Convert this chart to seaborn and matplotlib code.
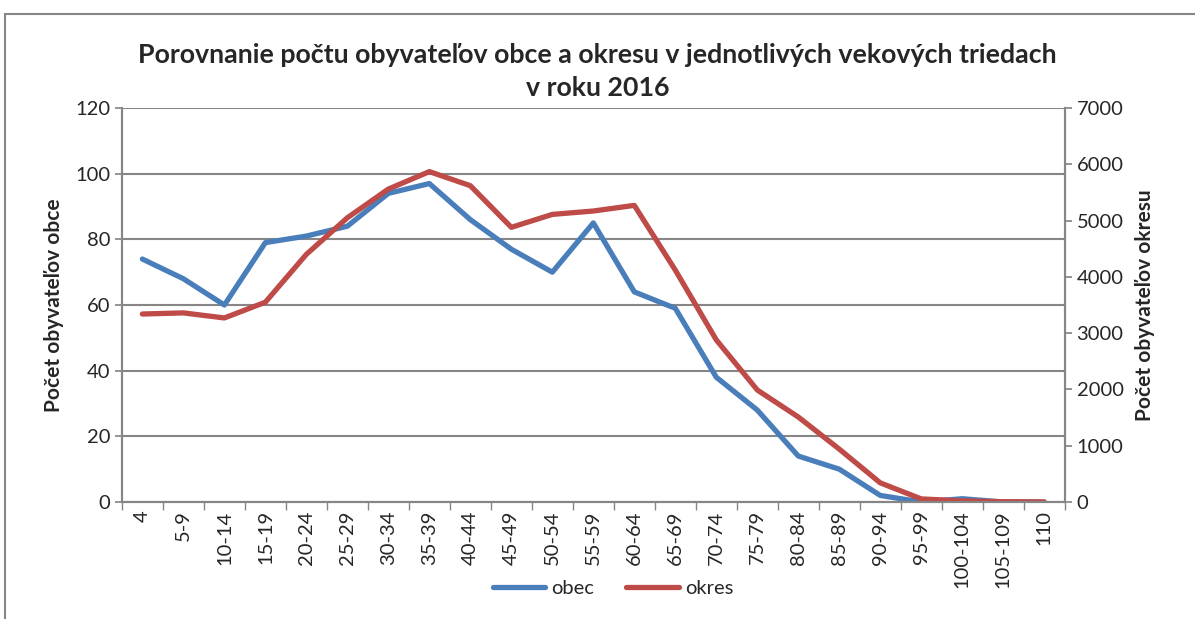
import matplotlib
matplotlib.use("Agg")
import matplotlib.pyplot as plt
import seaborn as sns
import pandas as pd
from matplotlib.lines import Line2D

categories = ["4", "5-9", "10-14", "15-19", "20-24", "25-29", "30-34", "35-39",
              "40-44", "45-49", "50-54", "55-59", "60-64", "65-69", "70-74",
              "75-79", "80-84", "85-89", "90-94", "95-99", "100-104", "105-109", "110"]
obec = [74, 68, 60, 79, 81, 84, 94, 97, 86, 77, 70, 85, 64, 59, 38, 28, 14, 10, 2, 0, 1, 0, 0]
okres = [3340, 3360, 3270, 3550, 4400, 5050, 5560, 5870, 5620, 4880, 5110, 5170, 5270,
         4120, 2880, 1990, 1510, 940, 340, 55, 20, 5, 0]

sns.set_theme(style="white")
plt.rcParams['font.family'] = ['Lato', 'DejaVu Sans']

BLUE = "#4A7EBB"
RED = "#BE4B48"
GRID = "#868686"

df = pd.DataFrame({"x": range(len(categories)), "obec": obec, "okres": okres})

fig = plt.figure(figsize=(11.95, 6.19), dpi=100)
ax = fig.add_axes([0.102, 0.189, 0.789, 0.6365])
ax2 = ax.twinx()

sns.lineplot(data=df, x="x", y="obec", ax=ax, color=BLUE, linewidth=3.8, solid_capstyle="round")
sns.lineplot(data=df, x="x", y="okres", ax=ax2, color=RED, linewidth=3.8, solid_capstyle="round")

ax.set_xlim(-0.5, len(categories) - 0.5)
ax.set_ylim(0, 120)
ax.set_yticks(range(0, 121, 20))
ax2.set_ylim(0, 7000)
ax2.set_yticks(range(0, 7001, 1000))

ax.set_xticks(range(len(categories)))
ax.set_xticklabels(categories, rotation=90, fontsize=14.5)
ax.tick_params(axis="y", labelsize=14.5, length=5, color=GRID, direction="out", left=True)
ax2.tick_params(axis="y", labelsize=14.5, length=5, color=GRID, direction="out", right=True)
ax.set_xticks([i - 0.5 for i in range(len(categories) + 1)], minor=True)
ax.tick_params(axis="x", which="major", length=0, pad=6)
ax.tick_params(axis="x", which="minor", length=6, color=GRID, bottom=True)

ax.grid(axis="y", color=GRID, linewidth=1.5)
ax.set_axisbelow(True)
for a in (ax, ax2):
    for s in a.spines.values():
        s.set_visible(False)
    for side in ("left", "right", "bottom"):
        a.spines[side].set_visible(True)
        a.spines[side].set_color(GRID)
        a.spines[side].set_linewidth(1.5)

ax.set_xlabel("")
ax.set_ylabel("Počet obyvateľov obce", fontsize=15, fontweight="bold", labelpad=8)
ax2.set_ylabel("Počet obyvateľov okresu", fontsize=15, fontweight="bold", labelpad=8)

fig.suptitle("Porovnanie počtu obyvateľov obce a okresu v jednotlivých vekových triedach\nv roku 2016",
             fontsize=19.3, fontweight="bold", y=0.93, linespacing=1.45)

handles = [Line2D([0], [0], color=BLUE, linewidth=3.8, solid_capstyle="round"),
           Line2D([0], [0], color=RED, linewidth=3.8, solid_capstyle="round")]
fig.legend(handles, ["obec", "okres"], loc="center", bbox_to_anchor=(0.513, 0.049),
           ncol=2, frameon=False, fontsize=14.5, handlelength=2.6, columnspacing=1.6,
           handletextpad=0.3)

fig.patches.append(plt.Rectangle((0.004, -0.01), 1.2, 0.987, transform=fig.transFigure,
                                 fill=False, edgecolor=GRID, linewidth=1.5))

fig.savefig("out.png", dpi=100)
